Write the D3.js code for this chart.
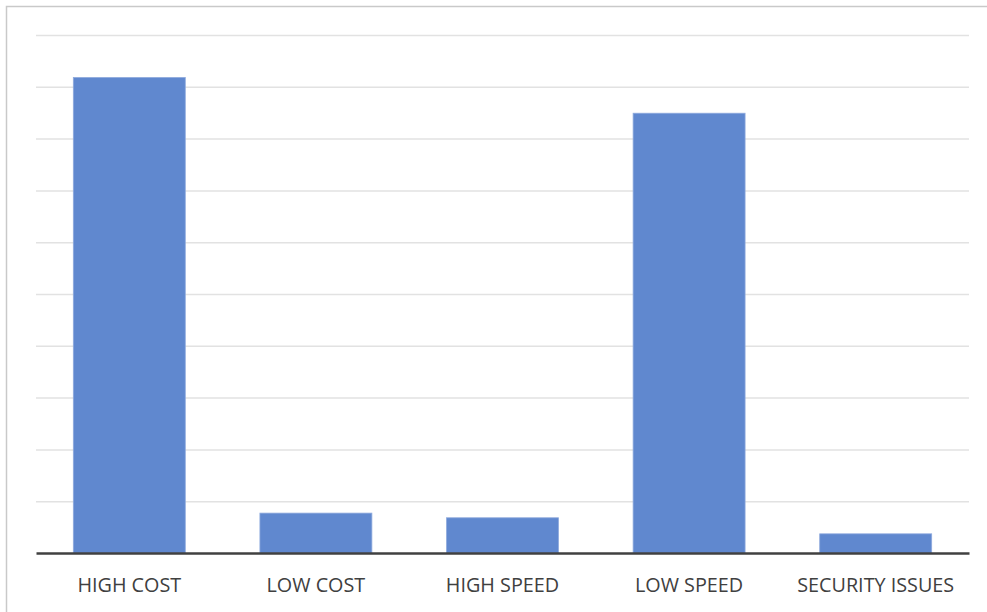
<!DOCTYPE html>
<html>
<head>
<meta charset="utf-8">
<script src="https://cdn.jsdelivr.net/npm/d3@7"></script>
<style>
  html, body { margin: 0; padding: 0; background: #ffffff; }
  svg { display: block; }
</style>
</head>
<body>
<svg id="chart" width="987" height="612"></svg>
<script>
// Problems reported, by category
const categories = ["HIGH COST", "LOW COST", "HIGH SPEED", "LOW SPEED", "SECURITY ISSUES"];
const values = [91.8, 7.7, 6.8, 84.9, 3.7];
const yTicks = [0, 10, 20, 30, 40, 50, 60, 70, 80, 90, 100];

const svg = d3.select("#chart");
const W = 987, H = 612;
const margin = { left: 36, right: 18, top: 35, bottom: 59 };

// chart area frame (extends past the right and bottom edges)
svg.append("rect")
  .attr("x", 6.5).attr("y", 6.5)
  .attr("width", W + 20).attr("height", H + 20)
  .attr("fill", "none")
  .attr("stroke", "#c9c9c9")
  .attr("stroke-width", 1.5);

const x = d3.scaleBand()
  .domain(categories)
  .range([margin.left, W - margin.right])
  .paddingInner(0.4)
  .paddingOuter(0.2);

const y = d3.scaleLinear()
  .domain([0, 100])
  .range([H - margin.bottom, margin.top]);

// horizontal gridlines
const grid = svg.append("g")
  .attr("transform", `translate(${margin.left},0)`)
  .call(d3.axisLeft(y).tickValues(yTicks.slice(1)).tickSize(-(W - margin.left - margin.right)).tickFormat(""));
grid.select(".domain").remove();
grid.selectAll(".tick line")
  .attr("stroke", "#e2e2e2")
  .attr("stroke-width", 1.5);

// bars
svg.append("g")
  .selectAll("rect")
  .data(values)
  .join("rect")
  .attr("x", (d, i) => x(categories[i]))
  .attr("y", d => y(d))
  .attr("width", x.bandwidth())
  .attr("height", d => y(0) - y(d))
  .attr("fill", "#6088cf")
  .attr("stroke", "#8eaadd")
  .attr("stroke-width", 0.8);

// category axis
const xAxis = svg.append("g")
  .attr("transform", `translate(0,${y(0)})`)
  .call(d3.axisBottom(x).tickSize(0).tickPadding(25));
xAxis.select(".domain")
  .attr("stroke", "#404040")
  .attr("stroke-width", 2.5);
xAxis.selectAll(".tick text")
  .attr("fill", "#404040")
  .attr("font-family", "'Open Sans', sans-serif")
  .attr("font-size", 19.8);
</script>
</body>
</html>
